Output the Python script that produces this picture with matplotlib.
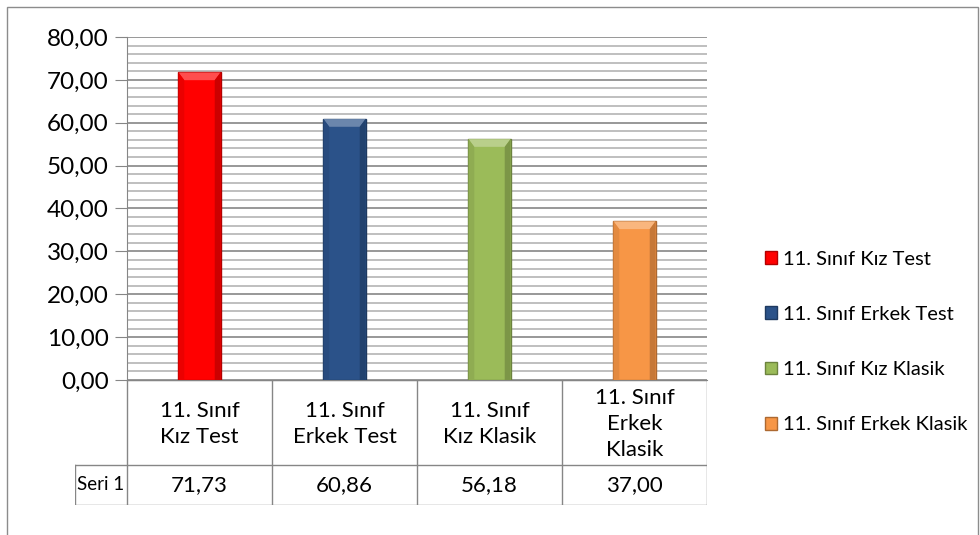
import numpy as np
import matplotlib.pyplot as plt
from matplotlib.patches import Polygon, Rectangle, Patch
from matplotlib.ticker import MultipleLocator, FuncFormatter
import matplotlib.colors as mcolors

plt.rcParams['font.family'] = ['Lato', 'DejaVu Sans']

# veriler
categories = ['11. Sınıf Kız Test', '11. Sınıf Erkek Test',
              '11. Sınıf Kız Klasik', '11. Sınıf Erkek Klasik']
table_labels = ['11. Sınıf\nKız Test', '11. Sınıf\nErkek Test',
                '11. Sınıf\nKız Klasik', '11. Sınıf\nErkek\nKlasik']
values = [71.73, 60.86, 56.18, 37.00]
series_name = 'Seri 1'
colors = ['#FF0000', '#2B5289', '#9BBB59', '#F79646']

W, H = 980, 535
fig = plt.figure(figsize=(W / 100, H / 100), dpi=100)


def fx(px):
    return px / W


def fy(py):
    return 1 - py / H


# dis cerceve
fig.patches.append(Rectangle((fx(7), -0.01), fx(978) - fx(7), fy(7) + 0.01,
                             transform=fig.transFigure, fill=False,
                             edgecolor='#8c8c8c', lw=1))

ax = fig.add_axes([fx(127), fy(380), fx(707) - fx(127), fy(37) - fy(380)])
x = np.arange(len(values))
width = 0.29


def shade(c, f):
    r, g, b = mcolors.to_rgb(c)
    if f < 1:
        return (r * f, g * f, b * f)
    return (r + (1 - r) * (f - 1), g + (1 - g) * (f - 1), b + (1 - b) * (f - 1))


# kabartmali cubuklar
for xi, v, c in zip(x, values, colors):
    l, r = xi - width / 2, xi + width / 2
    dx, dy = 0.04, 1.8
    ax.add_patch(Rectangle((l, 0), width, v, facecolor=c,
                           edgecolor=shade(c, 0.7), lw=1, zorder=3))
    ax.add_patch(Polygon([(l, v), (r, v), (r - dx, v - dy), (l + dx, v - dy)],
                         closed=True, facecolor=shade(c, 1.3), lw=0, zorder=4))
    ax.add_patch(Polygon([(l, 0), (l, v), (l + dx, v - dy), (l + dx, 0)],
                         closed=True, facecolor=shade(c, 0.92), lw=0, zorder=4))
    ax.add_patch(Polygon([(r, 0), (r, v), (r - dx, v - dy), (r - dx, 0)],
                         closed=True, facecolor=shade(c, 0.8), lw=0, zorder=4))

ax.set_xlim(-0.5, 3.5)
ax.set_ylim(0, 80)
ax.yaxis.set_major_locator(MultipleLocator(10))
ax.yaxis.set_minor_locator(MultipleLocator(2))
ax.yaxis.set_major_formatter(FuncFormatter(lambda v, p: f'{v:.2f}'.replace('.', ',')))
ax.grid(which='minor', axis='y', color='#b4b4b4', lw=1.2, zorder=1)
ax.grid(which='major', axis='y', color='#868686', lw=1.2, zorder=2)
ax.set_xticks([])
ax.tick_params(axis='y', which='major', length=9, color='#868686',
               labelsize=17.5, pad=4)
ax.tick_params(axis='y', which='minor', length=0)
for s in ['top', 'right']:
    ax.spines[s].set_visible(False)
ax.spines['left'].set_color('#868686')
ax.spines['bottom'].set_color('#868686')

# veri tablosu
tab_left = -0.5 - 52 / 145
tax = fig.add_axes([fx(75), fy(505), fx(707) - fx(75), fy(380) - fy(505)])
tax.set_xlim(tab_left, 3.5)
tax.set_ylim(125, 0)
tax.axis('off')
lc = '#868686'
tax.plot([-0.5, 3.5], [0, 0], color=lc, lw=1)
tax.plot([tab_left, 3.5], [85, 85], color=lc, lw=1)
tax.plot([tab_left, 3.5], [125, 125], color=lc, lw=1)
tax.plot([tab_left, tab_left], [85, 125], color=lc, lw=1)
for b in np.arange(-0.5, 4, 1):
    tax.plot([b, b], [0, 125], color=lc, lw=1)
for xi, lab, v in zip(x, table_labels, values):
    tax.text(xi, 44, lab, ha='center', va='center', fontsize=16,
             linespacing=1.4)
    tax.text(xi, 105, f'{v:.2f}'.replace('.', ','), ha='center', va='center',
             fontsize=16)
tax.text((tab_left - 0.5) / 2, 105, series_name, ha='center', va='center',
         fontsize=13.5)

# lejant
handles = [Patch(facecolor=c, edgecolor=shade(c, 0.7)) for c in colors]
fig.legend(handles, categories, loc='center left',
           bbox_to_anchor=(fx(757), fy(342)), frameon=False, fontsize=14.5,
           handlelength=0.6, handleheight=0.6, handletextpad=0.3,
           labelspacing=1.9, borderaxespad=0)

fig.savefig('out.png', dpi=100)
